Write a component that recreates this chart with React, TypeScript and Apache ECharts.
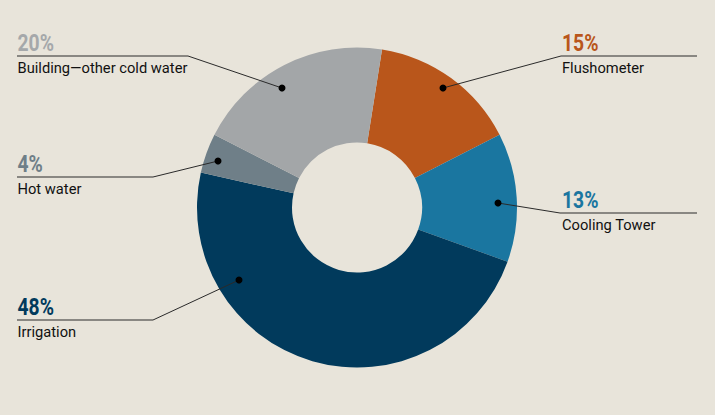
import React, { useEffect, useRef } from "react";
import * as echarts from "echarts";

const categories = ["Flushometer", "Cooling Tower", "Irrigation", "Hot water", "Building—other cold water"];
const values = [15, 13, 48, 4, 20];
const sliceColors = ["#b9561b", "#1a76a0", "#013a5c", "#6f7f88", "#a3a6a8"];
const percentColors = ["#b9561b", "#1a76a0", "#013a5c", "#6f7f88", "#a5a8aa"];

// annotation layout (dot anchor, elbow, side)
const anchors = [[443, 88], [498, 203], [239, 280], [218, 161], [282, 88]];
const elbows = [[561, 56], [560, 213], [153, 320], [153, 177], [188, 56]];
const sides = ["right", "right", "left", "left", "left"];

const PCT_FONT = "Roboto, sans-serif";
const NAME_FONT = "Roboto, sans-serif";

export default function App() {
  const ref = useRef<HTMLDivElement>(null);
  useEffect(() => {
    document.body.style.margin = "0";
    const chart = echarts.init(ref.current!, null, { renderer: "svg" });

    const annotations: any[] = [];
    categories.forEach((name, i) => {
      const [ax, ay] = anchors[i];
      const [ex, ey] = elbows[i];
      const right = sides[i] === "right";
      const tx = right ? 562 : 17.5;
      annotations.push({
        type: "polyline",
        shape: { points: [[ax, ay], [ex, ey], [right ? 697 : 17, ey]] },
        style: { stroke: "#2a2a2a", lineWidth: 1, fill: null },
        z: 100,
        silent: true,
      });
      annotations.push({
        type: "circle",
        shape: { cx: ax, cy: ay, r: 3.5 },
        style: { fill: "#000" },
        z: 101,
        silent: true,
      });
      annotations.push({
        type: "text",
        x: tx,
        y: ey - 13.5,
        scaleX: 0.84,
        style: {
          text: `${values[i]}%`,
          fontFamily: PCT_FONT,
          fontSize: 23,
          fontWeight: "bold",
          fill: percentColors[i],
          align: "left",
          verticalAlign: "middle",
        },
        z: 100,
        silent: true,
      });
      annotations.push({
        type: "text",
        x: tx,
        y: ey + 11.5,
        style: {
          text: name,
          fontFamily: NAME_FONT,
          fontSize: 14.7,
          fill: "#111",
          align: "left",
          verticalAlign: "middle",
        },
        z: 100,
        silent: true,
      });
    });

    chart.setOption({
      animation: false,
      backgroundColor: "#e8e4da",
      series: [
        {
          type: "pie",
          silent: true,
          center: [357, 207.5],
          radius: [65, 160],
          startAngle: 81,
          clockwise: true,
          label: { show: false },
          labelLine: { show: false },
          data: categories.map((name, i) => ({
            name,
            value: values[i],
            itemStyle: { color: sliceColors[i] },
          })),
        },
      ],
      graphic: annotations,
    });
    return () => chart.dispose();
  }, []);
  return <div ref={ref} style={{ width: 715, height: 415 }} />;
}
